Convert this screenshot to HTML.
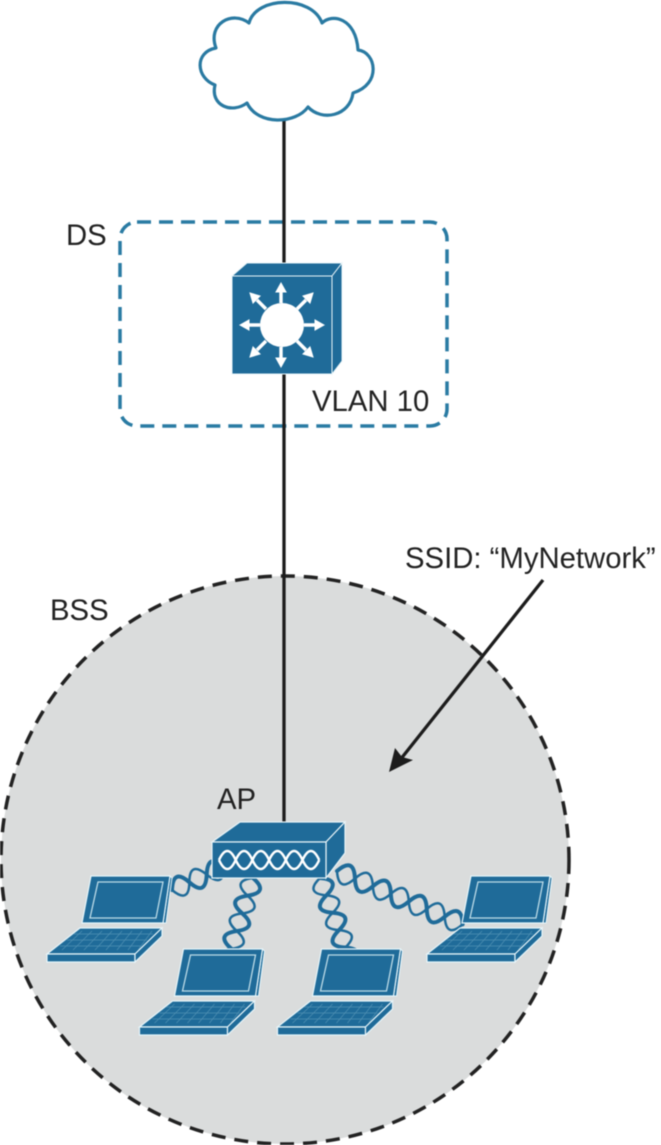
<!DOCTYPE html>
<html><head><meta charset="utf-8"><style>
html,body{margin:0;padding:0;background:#fff}
svg{display:block;filter:blur(.4px)}
text{font-family:"Liberation Sans",sans-serif;font-size:29.3px;fill:#222}
</style></head><body>
<svg width="661" height="1145" viewBox="0 0 661 1145" xmlns="http://www.w3.org/2000/svg">
<defs>
<g id="laptop">
<path d="M170 876L172 878L166 923L163 923Z" fill="#1f6b99" stroke="#e6f5fa" stroke-width="1"/>
<path d="M91 876H170L163 923H82Z" fill="#1f6b99" stroke="#e6f5fa" stroke-width="1.2"/>
<path d="M98 882H163L156 918H90Z" fill="none" stroke="#bcdbe7" stroke-width="1.3"/>
<path d="M80 928H162L135 954H47Z" fill="#1f6b99" stroke="#e6f5fa" stroke-width="1.2"/>
<path d="M47 954H135V962H47Z" fill="#1f6b99" stroke="#e6f5fa" stroke-width="1.2"/>
<path d="M135 954L162 928L162 936L135 962Z" fill="#1f6b99" stroke="#e6f5fa" stroke-width="1.2"/>
<path d="M74 934H153M67 940H147M60 946H141M82 931L62 950M92 931L73 950M102 931L84 950M112 931L95 950M122 931L106 950M132 931L117 950M142 931L128 950M152 931L138 950" stroke="#4f90b3" stroke-width=".7" fill="none"/>
</g>
</defs>

<circle cx="285" cy="860" r="284" fill="#dadcdc" stroke="#222" stroke-width="3.500" stroke-dasharray="14 9"/>

<rect x="120" y="222" width="327" height="204" rx="17" fill="none" stroke="#2a7ba3" stroke-width="3.500" stroke-dasharray="14 8"/>

<path d="M284 120V264M284 374V825" stroke="#1c1c1c" stroke-width="3.300" fill="none"/>

<!-- cloud -->
<path d="M249 23C256 -4 312 -5 322 23C332 13 356 18 358 50C376 52 382 84 353 93C350 116 322 122 308 107C296 124 258 126 247 103C232 114 210 106 215 85C196 78 194 52 216 48C207 24 232 10 249 23Z" fill="#fff" stroke="#2a7aa2" stroke-width="3.200" stroke-linejoin="round"/>

<!-- switch -->
<path d="M232 276L247 263H342L332 276Z" fill="#1f6b99" stroke="#e8f4f8" stroke-width="1"/>
<path d="M332 276L342 263V361L332 374Z" fill="#1f6b99" stroke="#e8f4f8" stroke-width="1"/>
<rect x="232" y="276" width="100" height="98" fill="#1f6b99" stroke="#e8f4f8" stroke-width="1"/>
<circle cx="282" cy="325" r="22" fill="#fff"/>
<g stroke="#fff" stroke-width="3.400" fill="#fff">
<path d="M281 303V292M281 347V358M260 325H249M304 325H315M266 309L257 300M297 309L306 300M266 341L257 350M297 341L306 350" fill="none"/>
<path d="M281 283L276 292H286ZM281 367L276 358H286ZM240 325L249 320V330ZM324 325L315 320V330ZM250 293L253 303L260 296ZM313 293L303 296L310 303ZM250 357L260 354L253 347ZM313 357L310 347L303 354Z" stroke-width="1"/>
</g>

<!-- helix links -->
<g fill="none" stroke="#1f6b99" stroke-linecap="round">
<g transform="translate(172,890) rotate(-24)">
<path d="M0 0q10 -20 19 0t19 0t19 0" stroke-width="4"/><path d="M0 0q10 20 19 0t19 0t19 0" stroke-width="2.500"/>
</g>
<g transform="translate(253,878) rotate(107)">
<path d="M0 0q9 -20 18.500 0t18.500 0t18.500 0t18.500 0t18.500 0" stroke-width="4"/><path d="M0 0q9 20 18.500 0t18.500 0t18.500 0t18.500 0t18.500 0" stroke-width="2.500"/>
</g>
<g transform="translate(320,878) rotate(70)">
<path d="M0 0q9 -20 18.500 0t18.500 0t18.500 0t18.500 0t18.500 0" stroke-width="4"/><path d="M0 0q9 20 18.500 0t18.500 0t18.500 0t18.500 0t18.500 0" stroke-width="2.500"/>
</g>
<g transform="translate(337,871) rotate(23)">
<path d="M0 0q10 -20 19.500 0t19.500 0t19.500 0t19.500 0t19.500 0t19.500 0t19.500 0" stroke-width="4"/><path d="M0 0q10 20 19.500 0t19.500 0t19.500 0t19.500 0t19.500 0t19.500 0t19.500 0" stroke-width="2.500"/>
</g>
</g>

<!-- AP -->
<path d="M212 842L240 822H345L326 842Z" fill="#1f6b99" stroke="#e8f4f8" stroke-width="1.2"/>
<path d="M326 842L345 822V853L326 878Z" fill="#1f6b99" stroke="#e8f4f8" stroke-width="1.2"/>
<rect x="212" y="842" width="114" height="36" fill="#1f6b99" stroke="#e8f4f8" stroke-width="1.2"/>
<g fill="none" stroke="#fff" stroke-width="2.500">
<path d="M219 860q8.300 -18 16.700 0t16.700 0t16.700 0t16.700 0t16.700 0t16.700 0"/>
<path d="M219 860q8.300 18 16.700 0t16.700 0t16.700 0t16.700 0t16.700 0t16.700 0"/>
</g>

<use href="#laptop"/>
<use href="#laptop" x="92.500" y="73"/>
<use href="#laptop" x="230.500" y="73"/>
<use href="#laptop" x="380"/>

<!-- arrow -->
<path d="M543 580L400 760" stroke="#1c1c1c" stroke-width="3.300" fill="none"/>
<path d="M389 772L395 748L402 757L413 760Z" fill="#1c1c1c"/>

<text x="66" y="245">DS</text>
<text x="312" y="411">VLAN 10</text>
<text x="405" y="568">SSID: “MyNetwork”</text>
<text x="50" y="620">BSS</text>
<text x="217" y="809">AP</text>
</svg>
</body></html>
